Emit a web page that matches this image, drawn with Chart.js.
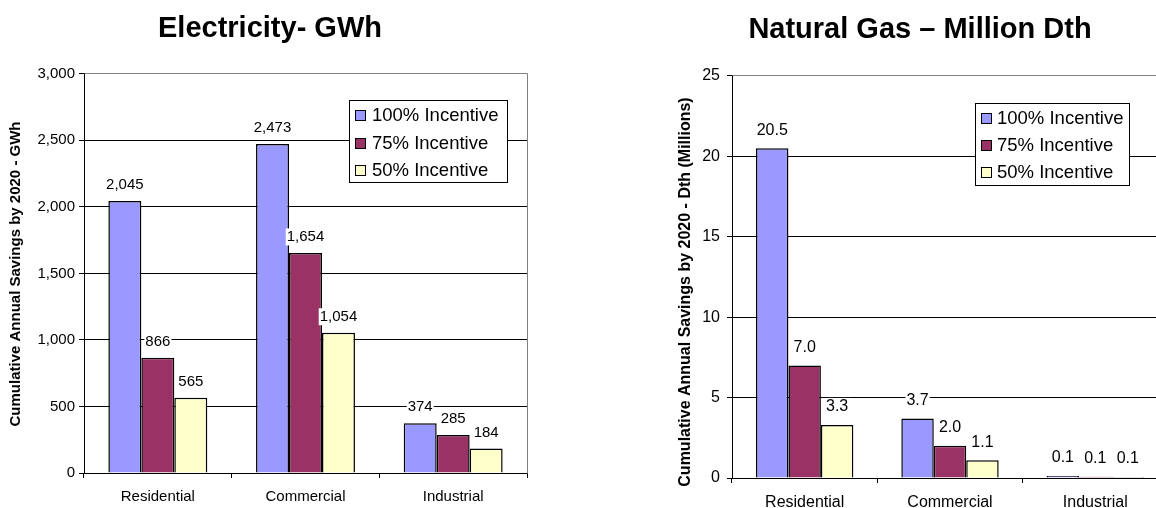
<!DOCTYPE html>
<html>
<head>
<meta charset="utf-8">
<script src="https://cdn.jsdelivr.net/npm/chart.js@4.4.1/dist/chart.umd.min.js"></script>
<style>
  body { margin: 0; background: #fff; overflow: hidden; width: 1156px; height: 508px; position: relative; }
  canvas { position: absolute; top: 0; }
  #elec { left: 0; }
  #gas { left: 672px; }
</style>
</head>
<body>
<canvas id="elec" width="540" height="508"></canvas>
<canvas id="gas" width="498" height="508"></canvas>
<script>
// datos
const categorias = ["Residential", "Commercial", "Industrial"];
const series = ["100% Incentive", "75% Incentive", "50% Incentive"];

const elec100 = [2045, 2473, 374];
const elec75 = [866, 1654, 285];
const elec50 = [565, 1054, 184];
const elecTicks = [0, 500, 1000, 1500, 2000, 2500, 3000];

const gas100 = [20.5, 3.7, 0.12];
const gas75 = [7.0, 2.0, 0.08];
const gas50 = [3.3, 1.1, 0.06];
const gasTicks = [0, 5, 10, 15, 20, 25];

const colores = ["#9999ff", "#993366", "#ffffcc"];
const FUENTE = "'Liberation Sans', Arial, sans-serif";

Chart.defaults.font.family = FUENTE;
Chart.defaults.color = "#000";

// etiquetas de valor encima de cada barra, con fondo blanco
function crearEtiquetas(formato, size, gap) {
  return {
    id: "etiquetas",
    afterDatasetsDraw(chart) {
      const ctx = chart.ctx;
      ctx.save();
      ctx.font = size + "px " + FUENTE;
      ctx.textAlign = "center";
      ctx.textBaseline = "middle";
      chart.data.datasets.forEach((ds, i) => {
        chart.getDatasetMeta(i).data.forEach((bar, j) => {
          let txt = formato(ds.data[j]);
          let w = ctx.measureText(txt).width;
          let y = bar.y - gap;
          ctx.fillStyle = "#fff";
          ctx.fillRect(bar.x - w / 2 - 1, y - size / 2 - 1, w + 2, size + 2);
          ctx.fillStyle = "#000";
          ctx.fillText(txt, bar.x, y);
        });
      });
      ctx.restore();
    }
  };
}

// borde gris arriba y a la derecha del area
const marco = {
  id: "marco",
  beforeDatasetsDraw(chart) {
    const a = chart.chartArea;
    const ctx = chart.ctx;
    const al = p => Math.round(p - 0.5) + 0.5;
    ctx.save();
    ctx.strokeStyle = "#808080";
    ctx.lineWidth = 1;
    ctx.beginPath();
    ctx.moveTo(al(a.left), al(a.top));
    ctx.lineTo(al(a.right), al(a.top));
    ctx.lineTo(al(a.right), al(a.bottom));
    ctx.stroke();
    ctx.restore();
  }
};

// titulo vertical del eje y
function crearTituloY(texto, size, cx, cy) {
  return {
    id: "tituloY",
    afterDraw(chart) {
      const ctx = chart.ctx;
      ctx.save();
      ctx.translate(cx, cy);
      ctx.rotate(-Math.PI / 2);
      ctx.font = "bold " + size + "px " + FUENTE;
      ctx.fillStyle = "#000";
      ctx.textAlign = "center";
      ctx.textBaseline = "middle";
      ctx.fillText(texto, 0, 0);
      ctx.restore();
    }
  };
}

// leyenda dentro del grafico
function crearLeyenda(caja) {
  return {
    id: "leyenda",
    afterDraw(chart) {
      const ctx = chart.ctx;
      ctx.save();
      ctx.fillStyle = "#fff";
      ctx.fillRect(caja.x, caja.y, caja.w, caja.h);
      ctx.strokeStyle = "#000";
      ctx.lineWidth = 1;
      ctx.strokeRect(caja.x + 0.5, caja.y + 0.5, caja.w, caja.h);
      ctx.font = caja.size + "px " + FUENTE;
      ctx.textBaseline = "middle";
      chart.data.datasets.forEach((ds, i) => {
        let cy = Math.round(caja.y + caja.fila0 + i * caja.paso);
        ctx.fillStyle = ds.backgroundColor;
        ctx.fillRect(caja.sx, cy - 5, 11, 11);
        ctx.strokeStyle = "#000";
        ctx.strokeRect(caja.sx + 0.5, cy - 4.5, 10, 10);
        ctx.fillStyle = "#000";
        ctx.fillText(ds.label, caja.tx, cy + 1);
      });
      ctx.restore();
    }
  };
}

function datasets(valores) {
  return valores.map((v, i) => ({
    label: series[i],
    data: v,
    backgroundColor: colores[i],
    borderColor: "#000",
    borderWidth: 1.5,
    categoryPercentage: 0.67,
    barPercentage: 1
  }));
}

function crearGrafica(id, o) {
  return new Chart(document.getElementById(id), {
    type: "bar",
    data: { labels: categorias, datasets: datasets(o.valores) },
    options: {
      responsive: false,
      animation: false,
      devicePixelRatio: 1,
      layout: { padding: { left: o.izquierda, right: o.derecha, top: 0, bottom: 0 } },
      plugins: {
        legend: { display: false },
        tooltip: { enabled: false },
        title: {
          display: true,
          text: o.titulo,
          color: "#000",
          font: { size: 29, weight: "bold" },
          padding: o.tituloPad
        }
      },
      scales: {
        x: {
          grid: { offset: true, drawOnChartArea: false, drawTicks: true, tickLength: 5, color: "#000" },
          border: { color: "#000", width: 1 },
          ticks: { font: { size: o.fuenteTicks }, padding: o.xPad, color: "#000" },
          afterFit(s) { s.height = o.xAlto; }
        },
        y: {
          min: o.ticks[0],
          max: o.ticks[o.ticks.length - 1],
          afterBuildTicks(s) { s.ticks = o.ticks.map(v => ({ value: v })); },
          grid: { color: "#000", tickLength: 5 },
          border: { color: "#000", width: 1 },
          ticks: {
            font: { size: o.fuenteTicks },
            padding: o.yPad,
            color: "#000",
            callback: o.formatoEje
          },
          afterFit(s) { s.width = o.yAncho; }
        }
      }
    },
    plugins: [
      marco,
      crearEtiquetas(o.formato, o.fuenteValores, o.gap),
      crearLeyenda(o.leyenda),
      crearTituloY(o.tituloY, o.fuenteTituloY, o.tituloYx, o.tituloYy)
    ]
  });
}

crearGrafica("elec", {
  valores: [elec100, elec75, elec50],
  ticks: elecTicks,
  titulo: "Electricity- GWh",
  tituloPad: { top: 12, bottom: 27 },
  tituloY: "Cumulative Annual Savings by 2020 - GWh",
  fuenteTituloY: 15,
  tituloYx: 16,
  tituloYy: 274,
  fuenteTicks: 15,
  fuenteValores: 15,
  gap: 16,
  xPad: 10,
  xAlto: 35,
  yPad: 4,
  yAncho: 71,
  izquierda: 13,
  derecha: 13,
  formatoEje: v => v.toLocaleString("en-US"),
  formato: v => v.toLocaleString("en-US"),
  leyenda: { x: 349, y: 100, w: 158, h: 82, fila0: 15, paso: 27.5, sx: 355, tx: 372, size: 18.5 }
});

crearGrafica("gas", {
  valores: [gas100, gas75, gas50],
  ticks: gasTicks,
  titulo: "Natural Gas \u2013 Million Dth",
  tituloPad: { top: 13, bottom: 28 },
  tituloY: "Cumulative Annual Savings by 2020 - Dth (Millions)",
  fuenteTituloY: 16,
  tituloYx: 14,
  tituloYy: 292,
  fuenteTicks: 16,
  fuenteValores: 16,
  gap: 18,
  xPad: 10,
  xAlto: 30,
  yPad: 7,
  yAncho: 60,
  izquierda: 0,
  derecha: 2,
  formatoEje: v => v,
  formato: v => v.toFixed(1),
  leyenda: { x: 303, y: 103, w: 154, h: 82, fila0: 15, paso: 27, sx: 309, tx: 325, size: 18.5 }
});
</script>
</body>
</html>
